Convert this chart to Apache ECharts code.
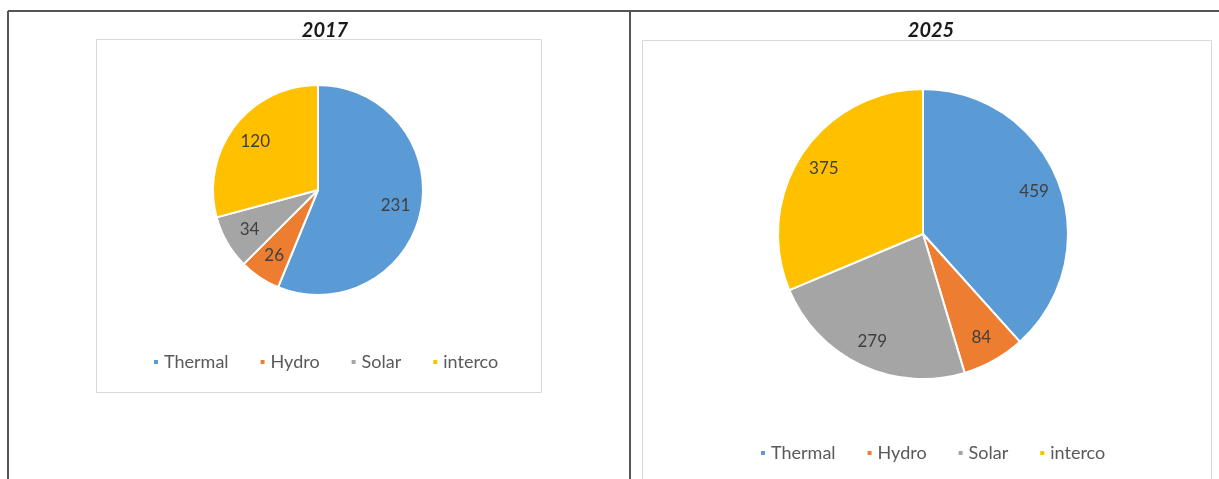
<!DOCTYPE html>
<html>
<head>
<meta charset="utf-8">
<script src="https://cdn.jsdelivr.net/npm/echarts@6/dist/echarts.min.js"></script>
<style>
html,body{margin:0;padding:0;background:#fff;}
#c{width:1219px;height:479px;}
</style>
</head>
<body>
<div id="c"></div>
<script>
const categories = ['Thermal', 'Hydro', 'Solar', 'interco'];
const values2017 = [231, 26, 34, 120];
const values2025 = [459, 84, 279, 375];
const titles = ['2017', '2025'];
const colors = ['#5B9BD5', '#ED7D31', '#A5A5A5', '#FFC000'];

const FONT = 'Lato, "Open Sans", sans-serif';
function toData(vals) {
  return categories.map((c, i) => ({ name: c, value: vals[i] }));
}
function pie(vals, center, r) {
  return {
    type: 'pie', center: center, radius: [0, r], startAngle: 90, clockwise: true,
    data: toData(vals), label: { show: false }, labelLine: { show: false },
    itemStyle: { borderColor: '#fff', borderWidth: 2 }, emphasis: { disabled: true }
  };
}
function labelPie(vals, center, r) {
  return {
    type: 'pie', center: center, radius: [0, r], startAngle: 90, clockwise: true, silent: true,
    data: toData(vals),
    itemStyle: { color: 'rgba(0,0,0,0)', borderWidth: 0 },
    label: { show: true, position: 'inside', color: '#404040', fontSize: 17, fontFamily: FONT, formatter: '{c}' },
    labelLine: { show: false }, emphasis: { disabled: true }
  };
}
const legendCommon = {
  data: categories, orient: 'horizontal', icon: 'rect', itemWidth: 6, itemHeight: 6, itemGap: 30,
  textStyle: { color: '#595959', fontSize: 18, fontFamily: FONT }, selectedMode: false
};

const chart = echarts.init(document.getElementById('c'), null, { renderer: 'canvas' });
chart.setOption({
  backgroundColor: '#fff',
  color: colors,
  animation: false,
  title: [
    { text: titles[0], left: 320, top: 16, textAlign: 'center', textStyle: { fontSize: 20, fontWeight: 'bold', fontStyle: 'italic', color: '#1a1a1a', fontFamily: FONT } },
    { text: titles[1], left: 926, top: 16, textAlign: 'center', textStyle: { fontSize: 20, fontWeight: 'bold', fontStyle: 'italic', color: '#1a1a1a', fontFamily: FONT } }
  ],
  legend: [
    Object.assign({ left: 147, top: 348 }, legendCommon),
    Object.assign({ left: 754, top: 439 }, legendCommon)
  ],
  graphic: [
    { type: 'line', shape: { x1: 8, y1: 11, x2: 1219, y2: 11 }, style: { stroke: '#555', lineWidth: 2 } },
    { type: 'line', shape: { x1: 8, y1: 11, x2: 8, y2: 479 }, style: { stroke: '#555', lineWidth: 2 } },
    { type: 'line', shape: { x1: 630, y1: 11, x2: 630, y2: 479 }, style: { stroke: '#555', lineWidth: 2 } },
    { type: 'rect', shape: { x: 96.5, y: 39.5, width: 445, height: 353 }, style: { fill: 'none', stroke: '#d9d9d9', lineWidth: 1 } },
    { type: 'rect', shape: { x: 642.5, y: 40.5, width: 569, height: 460 }, style: { fill: 'none', stroke: '#d9d9d9', lineWidth: 1 } }
  ],
  series: [
    pie(values2017, [318, 190], 105),
    pie(values2025, [923, 234], 145),
    labelPie(values2017, [318, 190], 152),
    labelPie(values2025, [923, 234], 232)
  ]
});
</script>
</body>
</html>
